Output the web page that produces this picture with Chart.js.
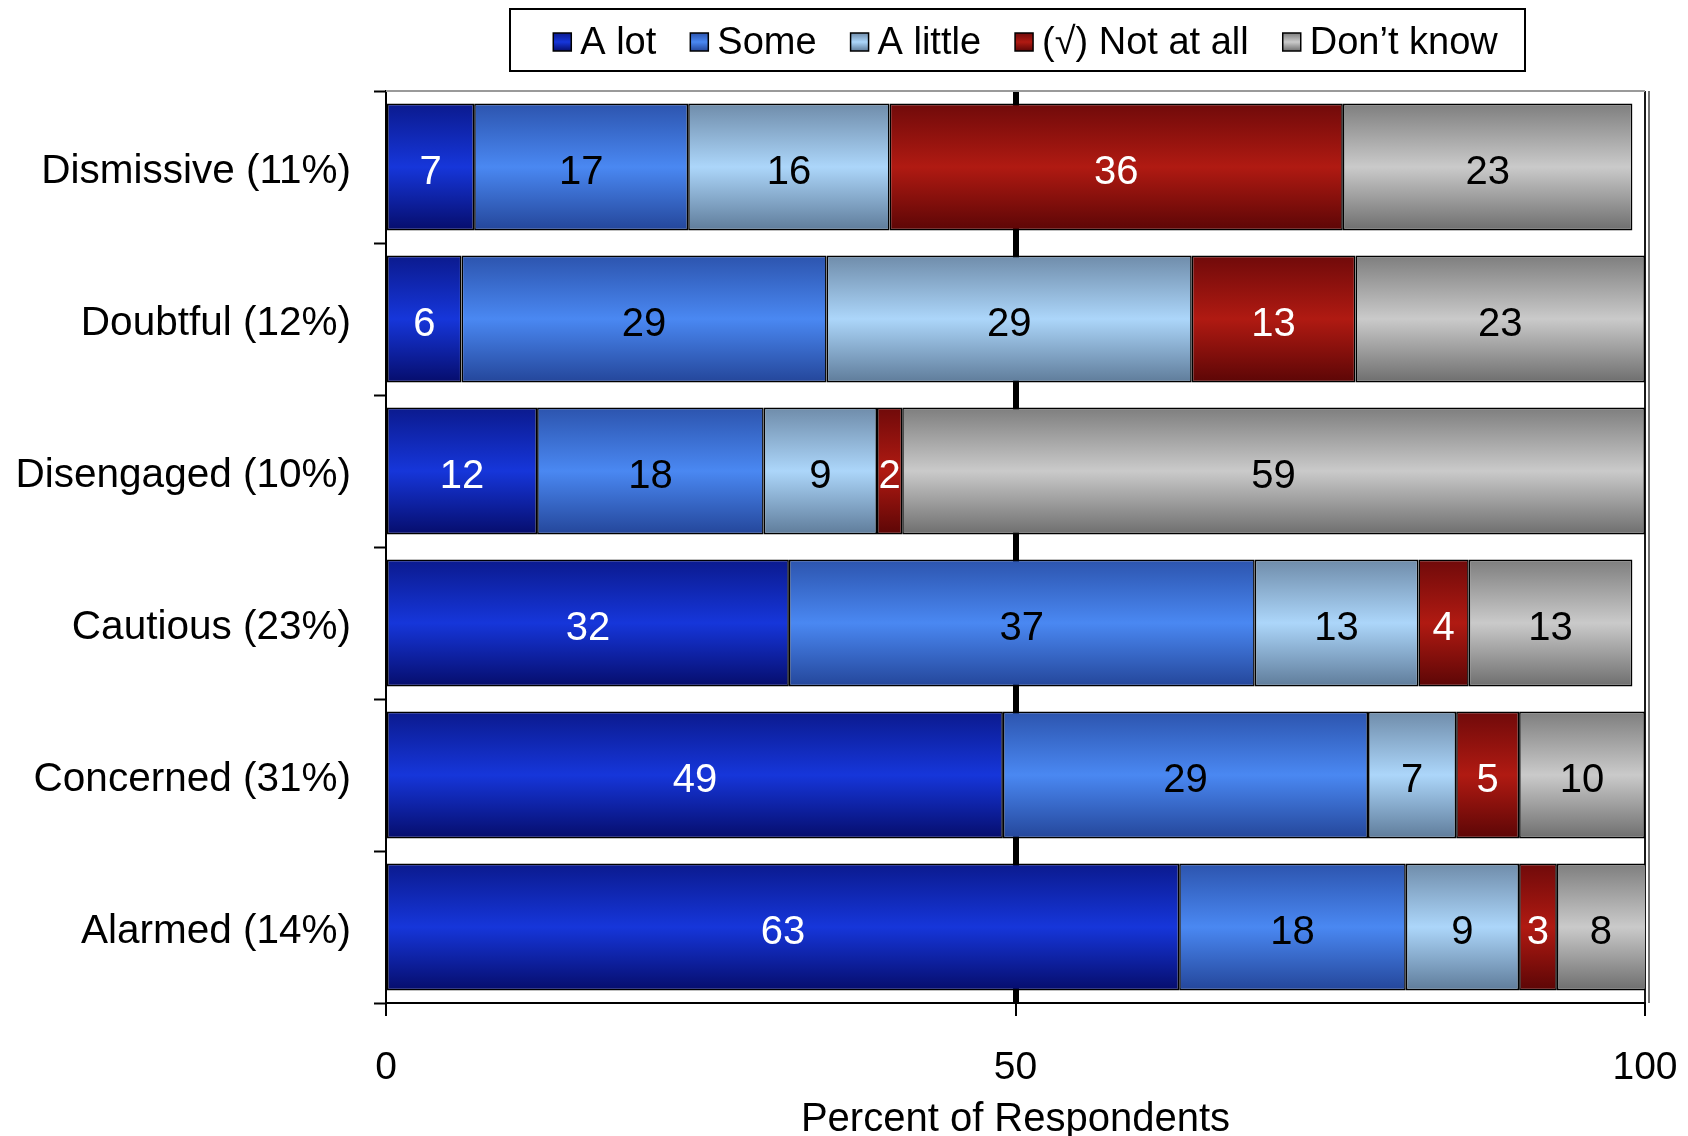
<!DOCTYPE html>
<html>
<head>
<meta charset="utf-8">
<script src="https://cdn.jsdelivr.net/npm/chart.js@4.4.1/dist/chart.umd.min.js"></script>
<style>
  html, body { margin: 0; padding: 0; background: #fff; }
  #wrap { width: 1688px; height: 1136px; }
</style>
</head>
<body>
<div id="wrap"><canvas id="c"></canvas></div>
<script>
// Audience segments (top to bottom) and response shares, in percent
const segments = ['Dismissive (11%)', 'Doubtful (12%)', 'Disengaged (10%)', 'Cautious (23%)', 'Concerned (31%)', 'Alarmed (14%)'];
const seriesNames = ['A lot', 'Some', 'A little', '(\u221A) Not at all', 'Don\u2019t know'];
const aLot     = [7, 6, 12, 32, 49, 63];
const some     = [17, 29, 18, 37, 29, 18];
const aLittle  = [16, 29, 9, 13, 7, 9];
const notAtAll = [36, 13, 2, 4, 5, 3];
const dontKnow = [23, 23, 59, 13, 10, 8];
const xTicks   = [0, 50, 100];
const axisTitle = 'Percent of Respondents';

const FONT = "'Liberation Sans', Arial, Helvetica, sans-serif";
const BAR_PCT = 0.835;

// Shaded fills: dark edge, light middle, dark edge
const shades = [
  { stops: ['#0b1a8e', '#1636da', '#060d6c'], text: '#ffffff' },
  { stops: ['#2c54ae', '#4a88f2', '#24469a'], text: '#000000' },
  { stops: ['#6f8caa', '#acd6fa', '#5f7c9a'], text: '#000000' },
  { stops: ['#700a0a', '#b01a12', '#5c0606'], text: '#ffffff' },
  { stops: ['#7e7e7e', '#cacaca', '#6e6e6e'], text: '#000000' }
];

function gradient(ctx, top, bottom, stops) {
  const g = ctx.createLinearGradient(0, top, 0, bottom);
  g.addColorStop(0, stops[0]);
  g.addColorStop(0.5, stops[1]);
  g.addColorStop(1, stops[2]);
  return g;
}

function barFill(stops) {
  return (context) => {
    const chart = context.chart;
    const y = chart.scales && chart.scales.y;
    if (!y || context.dataIndex === undefined || !isFinite(y.height) || y.height <= 0) return stops[1];
    const c = y.getPixelForValue(context.dataIndex);
    const half = (y.height / segments.length) * BAR_PCT / 2;
    return gradient(chart.ctx, c - half, c + half, stops);
  };
}

const values = [aLot, some, aLittle, notAtAll, dontKnow];
const datasets = seriesNames.map((name, i) => ({
  label: name,
  data: values[i],
  backgroundColor: barFill(shades[i].stops),
  borderColor: '#000000',
  borderWidth: 1.6,
  borderSkipped: false,
  categoryPercentage: 1,
  barPercentage: BAR_PCT,
  textColor: shades[i].text
}));

// Thin frame lines along the top and right of the plot
const frame = {
  id: 'frame',
  beforeDatasetsDraw(chart) {
    const { ctx, chartArea: a } = chart;
    ctx.save();
    ctx.strokeStyle = '#9a9a9a';
    ctx.lineWidth = 2;
    ctx.beginPath();
    ctx.moveTo(a.left, a.top);
    ctx.lineTo(a.right, a.top);
    ctx.stroke();
    ctx.strokeStyle = '#444';
    ctx.lineWidth = 1.5;
    ctx.beginPath();
    ctx.moveTo(a.right + 4, a.top);
    ctx.lineTo(a.right + 4, a.bottom);
    ctx.stroke();
    ctx.restore();
  }
};

// Value printed in the middle of every segment
const valueLabels = {
  id: 'valueLabels',
  afterDatasetsDraw(chart) {
    const ctx = chart.ctx;
    const a = chart.chartArea;
    ctx.save();
    ctx.font = '40px ' + FONT;
    ctx.textAlign = 'center';
    ctx.textBaseline = 'middle';
    chart.data.datasets.forEach((ds, di) => {
      const meta = chart.getDatasetMeta(di);
      meta.data.forEach((el, i) => {
        const v = ds.data[i];
        if (!v) return;
        const x0 = Math.max(Math.min(el.x, el.base), a.left);
        const x1 = Math.min(Math.max(el.x, el.base), a.right);
        ctx.fillStyle = ds.textColor;
        ctx.fillText(String(v), (x0 + x1) / 2, el.y + 6);
      });
    });
    ctx.restore();
  }
};

// Boxed legend across the top
const boxLegend = {
  id: 'boxLegend',
  afterDraw(chart) {
    const ctx = chart.ctx;
    const box = { x: 510, y: 9, w: 1015, h: 62 };
    const sq = 18, gapText = 9, gapItem = 34;
    ctx.save();
    ctx.font = '38px ' + FONT;
    const items = chart.data.datasets.map((ds, i) => ({ label: ds.label, w: ctx.measureText(ds.label).width, i }));
    const total = items.reduce((s, it) => s + sq + gapText + it.w, 0) + gapItem * (items.length - 1);
    let x = box.x + (box.w - total) / 2 + 8;
    const cy = box.y + box.h / 2;
    ctx.fillStyle = '#fff';
    ctx.fillRect(box.x, box.y, box.w, box.h);
    ctx.strokeStyle = '#000';
    ctx.lineWidth = 2;
    ctx.strokeRect(box.x, box.y, box.w, box.h);
    items.forEach(it => {
      const top = cy - sq / 2 + 2;
      ctx.fillStyle = gradient(ctx, top, top + sq, shades[it.i].stops);
      ctx.fillRect(x, top, sq, sq);
      ctx.lineWidth = 1.5;
      ctx.strokeStyle = '#000';
      ctx.strokeRect(x, top, sq, sq);
      x += sq + gapText;
      ctx.fillStyle = '#000';
      ctx.textAlign = 'left';
      ctx.textBaseline = 'middle';
      ctx.fillText(it.label, x, cy + 4);
      x += it.w + gapItem;
    });
    ctx.restore();
  }
};

new Chart(document.getElementById('c'), {
  type: 'bar',
  data: { labels: segments, datasets },
  options: {
    indexAxis: 'y',
    responsive: true,
    maintainAspectRatio: false,
    animation: false,
    layout: { padding: { top: 91, right: 43, left: 0, bottom: 0 } },
    plugins: { legend: { display: false }, tooltip: { enabled: false } },
    scales: {
      x: {
        stacked: true,
        min: 0,
        max: 100,
        afterBuildTicks: (scale) => { scale.ticks = xTicks.map(v => ({ value: v })); },
        afterFit: (scale) => { scale.height = 133; scale.paddingLeft = 0; scale.paddingRight = 0; },
        ticks: { color: '#000', font: { family: FONT, size: 39 }, padding: 29, maxRotation: 0 },
        grid: {
          drawOnChartArea: true,
          color: (c) => (c.tick && c.tick.value === 50) ? '#000' : ((c.tick && c.tick.value === 100) ? '#1a1a1a' : 'rgba(0,0,0,0)'),
          lineWidth: (c) => (c.tick && c.tick.value === 50) ? 6 : 2,
          tickColor: '#000',
          tickWidth: 2,
          tickLength: 13
        },
        border: { display: true, color: '#000', width: 2 },
        title: { display: true, text: axisTitle, color: '#000', font: { family: FONT, size: 40, lineHeight: 0.8 }, padding: { top: 0, bottom: 0 } }
      },
      y: {
        stacked: true,
        afterFit: (scale) => { scale.width = 386; },
        ticks: { color: '#000', font: { family: FONT, size: 40.5 }, padding: 23, labelOffset: 5 },
        grid: { offset: true, drawOnChartArea: false, tickColor: '#000', tickWidth: 2, tickLength: 12 },
        border: { display: true, color: '#000', width: 2 }
      }
    }
  },
  plugins: [frame, valueLabels, boxLegend]
});
</script>
</body>
</html>
